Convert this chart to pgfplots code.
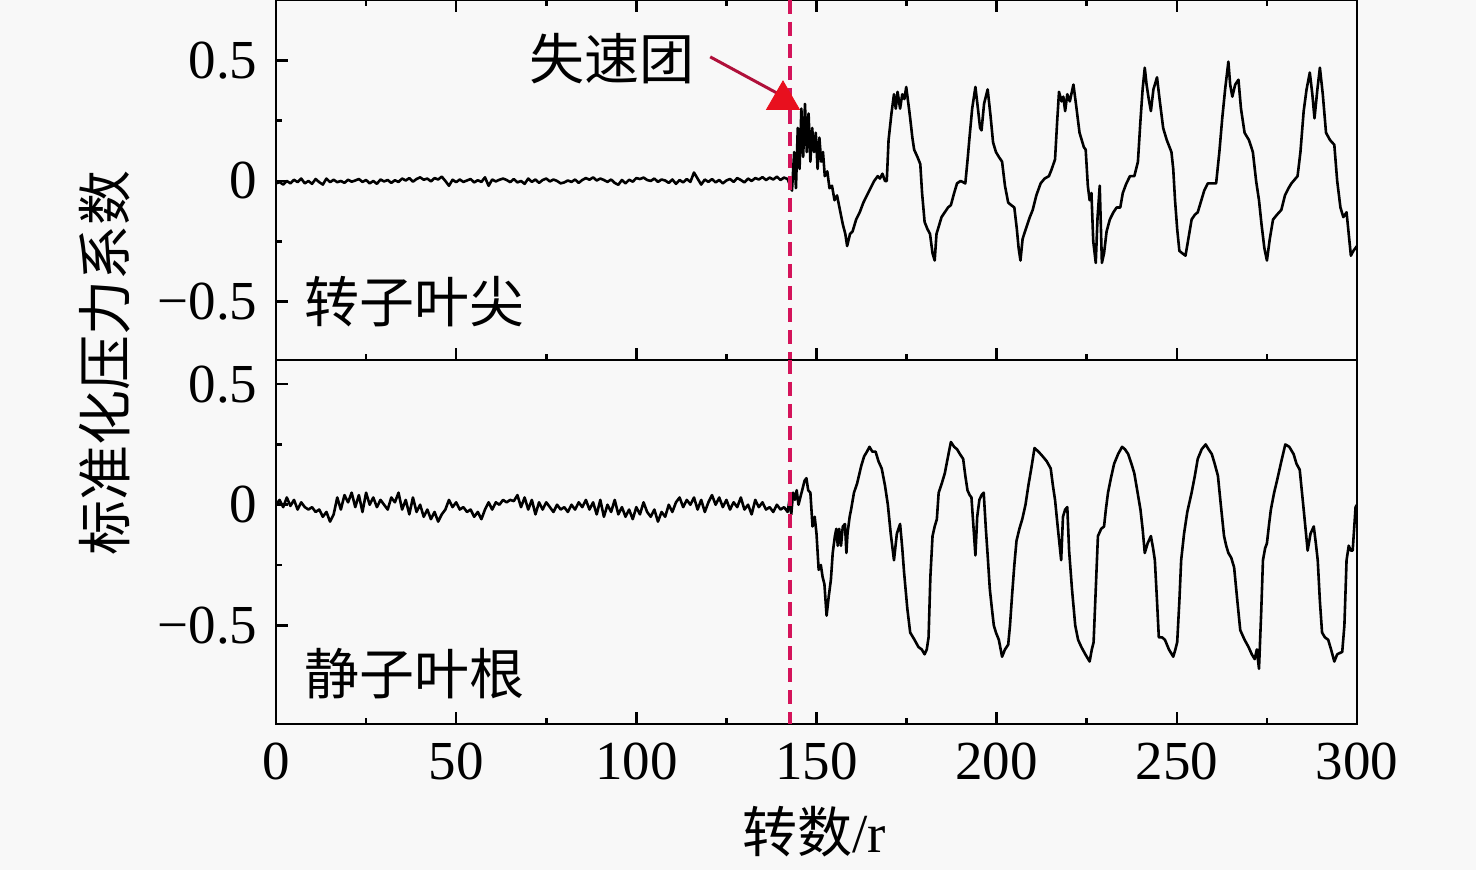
\documentclass[border=0pt]{standalone}
\usepackage{fontspec}
\usepackage{pgfplots}
\pgfplotsset{compat=1.18}
\setmainfont{Liberation Serif}
\newfontfamily\cjk{Noto Sans CJK SC}
\definecolor{bgc}{HTML}{F8F8F8}
\definecolor{dashc}{HTML}{D4145A}
\definecolor{trired}{HTML}{E8101E}
\definecolor{arrc}{HTML}{B0103A}
\pgfplotsset{
  panel/.style={
    scale only axis, width=540.5pt,
    xmin=0, xmax=300,
    axis line style={line width=1.4pt},
    tick align=inside,
    major tick length=6pt, minor tick length=3pt,
    every tick/.style={black, line width=1.3pt},
    xtick={0,50,100,150,200,250,300},
    minor xtick={25,75,125,175,225,275},
    ytick={-0.5,0,0.5}, minor ytick={-0.25,0.25},
    yticklabels={−0.5,0,0.5},
    ytick pos=left,
    /pgf/number format/assume math mode=true,
    tick label style={font=\fontsize{27.5}{33}\selectfont},
    clip=true,
  },
  sig/.style={black, line width=1.3pt, line join=round},
}
\begin{document}
\fontsize{27.5}{33}\selectfont
\begin{tikzpicture}
\path[use as bounding box, fill=bgc] (-138pt,0pt) rectangle (600pt,-435pt);
% ---------------- top panel ----------------
\begin{axis}[panel, at={(0pt,0pt)}, anchor=north west, height=180pt,
  ymin=-0.743, ymax=0.751, xtick pos=both, xticklabels={}]
\addplot[sig] coordinates {
(0,-0.01)(1,-0.005)(2,-0.015)(3,0)(4,-0.01)(5,0.005)(6,-0.005)(7,0.01)(8,-0.01)(9,0)
(10,-0.012)(11,0.008)(12,-0.005)(13,-0.015)(14,0.01)(15,-0.005)(16,0.005)(17,-0.005)(18,0)(19,-0.008)
(20,0.005)(21,-0.003)(22,0.002)(23,0.008)(24,-0.004)(25,0.004)(26,-0.01)(27,0)(28,-0.012)(29,0.006)
(30,-0.002)(31,0.004)(32,-0.008)(33,0.003)(34,-0.004)(35,0.01)(36,0.002)(37,0.012)(38,-0.003)(39,0.008)
(40,0.015)(41,0.005)(42,0.01)(43,-0.002)(44,0.012)(45,0.006)(46,0.018)(47,0)(48,-0.02)(49,0.005)
(50,-0.005)(51,0.006)(52,-0.004)(53,0.002)(54,0.008)(55,-0.006)(56,0.003)(57,-0.004)(58,0.015)(59,-0.02)
(60,0.006)(61,-0.002)(62,0.005)(63,0.01)(64,0.004)(65,-0.005)(66,0.008)(67,-0.006)(68,0)(69,-0.012)
(70,0.01)(71,-0.004)(72,0.006)(73,-0.008)(74,0.004)(75,0.01)(76,-0.002)(77,0.006)(78,0)(79,-0.01)
(80,-0.006)(81,0.002)(82,-0.004)(83,0.006)(84,-0.008)(85,0.004)(86,0.012)(87,0.005)(88,0.015)(89,0.002)
(90,0.01)(91,0.004)(92,-0.004)(93,0.006)(94,-0.008)(95,-0.016)(96,0.004)(97,-0.01)(98,0.005)(99,-0.003)
(100,0.012)(101,0.008)(102,0.014)(103,0.004)(104,0)(105,0.01)(106,-0.004)(107,0.006)(108,0.002)(109,-0.008)
(110,0.006)(111,-0.012)(112,0.004)(113,-0.006)(114,0.008)(115,-0.004)(116,0.035)(117,0.01)(118,-0.015)(119,0.006)
(120,-0.004)(121,0.008)(122,-0.006)(123,0.004)(124,-0.01)(125,0.002)(126,0.008)(127,-0.004)(128,0.012)(129,0.004)
(130,-0.006)(131,0.01)(132,0)(133,0.012)(134,0.006)(135,0.016)(136,0.004)(137,0.014)(138,0.006)(139,0.018)
(140,0.004)(141,0.014)(142,0.008)
(143.2,-0.04)(143.8,0.12)(144.3,-0.03)(144.8,0.22)(145.3,0.05)(145.8,0.30)(146.3,0.10)(146.8,0.32)(147.3,0.12)(147.8,0.28)
(148.3,0.08)(148.8,0.22)(149.3,0.12)(149.8,0.20)(150.3,0.05)(150.8,0.18)(151.3,0.08)(151.8,0.12)(152.3,0.02)(153,0.04)
(153.6,-0.03)(154.3,-0.02)(155,-0.08)(155.7,-0.06)(156.5,-0.12)(157.3,-0.18)(158,-0.22)(158.5,-0.27)(159.3,-0.22)(160,-0.21)
(161,-0.16)(162,-0.13)(163,-0.09)(164,-0.06)(165,-0.03)(166,0)(167,0.02)(167.6,0.01)(168.3,0.03)(169,0)(169.5,0)
(170,0.17)(170.8,0.28)(171.5,0.36)(172,0.30)(172.5,0.37)(173.2,0.30)(173.8,0.36)(174.4,0.34)(174.9,0.39)(175.5,0.32)
(176,0.26)(176.6,0.18)(177.1,0.13)(178,0.10)(178.8,0.07)(179.3,-0.05)(180,-0.17)(180.8,-0.2)(181.5,-0.22)(182.2,-0.30)
(182.8,-0.33)(183.3,-0.22)(183.9,-0.19)(184.7,-0.15)(185.6,-0.13)(186.5,-0.11)(187.3,-0.10)(188.2,-0.05)(189,-0.01)(190,0)
(191.3,-0.01)(192,0.10)(192.4,0.17)(193.2,0.30)(194.1,0.39)(194.8,0.30)(195.4,0.22)(195.8,0.21)(196.5,0.32)(197.5,0.38)
(198.3,0.27)(199,0.16)(199.8,0.12)(200.6,0.10)(201.5,0.08)(202.3,-0.02)(203.2,-0.09)(204,-0.10)(204.9,-0.11)(205.6,-0.2)
(206.1,-0.28)(206.6,-0.33)(207.2,-0.24)(208.3,-0.19)(209.2,-0.15)(210,-0.12)(211,-0.06)(212.2,-0.01)(213.3,0.01)(214.5,0.02)
(215.3,0.05)(216.2,0.09)(216.8,0.25)(217.3,0.37)(218,0.33)(218.5,0.35)(219,0.29)(219.6,0.36)(220.3,0.33)(221.3,0.40)
(222,0.32)(223,0.20)(223.6,0.17)(224.2,0.14)(224.7,0.13)(225.3,-0.02)(225.8,-0.08)(226.3,-0.05)(226.8,-0.25)(227.5,-0.34)
(228,-0.15)(228.6,-0.02)(229.2,-0.34)(229.8,-0.3)(230.5,-0.21)(231.4,-0.16)(232.4,-0.13)(233.3,-0.11)(234.3,-0.11)(235,-0.05)
(236,-0.01)(237,0.02)(238.2,0.02)(239.2,0.08)(239.9,0.25)(240.5,0.38)(241.1,0.47)(241.6,0.40)(242.2,0.34)(242.8,0.29)
(243.5,0.38)(244.5,0.43)(245.2,0.34)(246.2,0.22)(247.2,0.17)(248.5,0.12)(249,0.05)(249.5,-0.08)(250.1,-0.2)(250.7,-0.29)
(251.5,-0.30)(252.4,-0.31)(253.2,-0.24)(254.1,-0.16)(255,-0.14)(255.8,-0.13)(256.8,-0.08)(257.6,-0.04)(258.6,-0.01)(259.7,-0.01)
(260.9,-0.01)(261.8,0.12)(262.6,0.26)(263.4,0.38)(264.3,0.495)(264.8,0.40)(265.4,0.35)(266.2,0.40)(267.1,0.42)(267.8,0.30)
(268.8,0.20)(270,0.17)(271.1,0.12)(272,0)(272.8,-0.08)(273.5,-0.18)(274.3,-0.28)(275,-0.33)(275.8,-0.24)(276.7,-0.16)
(277.8,-0.14)(279,-0.12)(280,-0.06)(281,-0.03)(281.8,-0.01)(283.5,0.02)(284.3,0.12)(285.2,0.29)(286,0.38)(286.9,0.45)
(287.6,0.36)(288.2,0.26)(289,0.38)(289.7,0.47)(290.5,0.36)(291.4,0.20)(292.5,0.17)(293.7,0.15)(294.5,0)(295.4,-0.11)
(296.2,-0.15)(297.1,-0.13)(297.7,-0.22)(298.3,-0.31)(299,-0.29)(300,-0.27)
};
\addplot[dashc, line width=1.8pt, dash pattern=on 7pt off 4pt] coordinates {(142.7,0.751)(142.7,-0.743)};
\addplot[arrc, line width=1.5pt] coordinates {(120.5,0.515)(139,0.365)};
\addplot[only marks, mark=triangle*, mark size=9.5pt, mark options={fill=trired, draw=trired}] coordinates {(140.7,0.336)};
\node at (axis cs:93.3,0.506) {\cjk 失速团};
\node at (axis cs:38.3,-0.502) {\cjk 转子叶尖};
\end{axis}
% ---------------- bottom panel ----------------
\begin{axis}[panel, at={(0pt,-180pt)}, anchor=north west, height=182pt,
  ymin=-0.909, ymax=0.60, xtick pos=bottom,
  xticklabels={0,50,100,150,200,250,300}]
\addplot[sig] coordinates {
(0,0)(1,0.02)(2,-0.01)(3,0.03)(4,-0.005)(5,0.02)(6,-0.02)(7,0.01)(8,-0.01)(9,-0.02)
(10,-0.01)(11,-0.03)(12,-0.02)(13,-0.05)(14,-0.03)(15,-0.07)(16,-0.04)(17,0.03)(18,-0.02)(19,0.04)
(20,0.01)(21,0.05)(22,-0.01)(23,0.04)(24,-0.03)(25,0.05)(26,0)(27,0.03)(28,-0.01)(29,0.02)
(30,0)(31,-0.02)(32,0.03)(33,0.01)(34,0.05)(35,-0.02)(36,0.02)(37,-0.04)(38,0.03)(39,-0.03)
(40,0)(41,-0.05)(42,-0.02)(43,-0.06)(44,-0.03)(45,-0.07)(46,-0.04)(47,-0.02)(48,0.02)(49,-0.01)
(50,0.01)(51,-0.02)(52,-0.01)(53,-0.03)(54,-0.02)(55,-0.05)(56,-0.03)(57,-0.06)(58,-0.02)(59,0.01)
(60,-0.02)(61,0.01)(62,0)(63,0.02)(64,0.01)(65,0.02)(66,0.015)(67,0.04)(68,-0.01)(69,0.03)
(70,-0.02)(71,0.02)(72,-0.04)(73,0.01)(74,-0.02)(75,0.01)(76,-0.01)(77,-0.03)(78,0)(79,-0.02)
(80,-0.01)(81,-0.03)(82,0)(83,-0.02)(84,0.01)(85,-0.01)(86,0.02)(87,-0.02)(88,0.01)(89,-0.04)
(90,0.02)(91,-0.05)(92,0)(93,-0.03)(94,0.02)(95,-0.04)(96,-0.01)(97,-0.05)(98,-0.02)(99,-0.06)
(100,-0.01)(101,-0.04)(102,0.01)(103,-0.03)(104,-0.05)(105,-0.02)(106,-0.07)(107,-0.03)(108,-0.05)(109,0)
(110,-0.03)(111,0.01)(112,0.03)(113,-0.01)(114,0.02)(115,0)(116,0.03)(117,-0.02)(118,0.02)(119,-0.03)
(120,0.01)(121,0.04)(122,0)(123,0.03)(124,-0.01)(125,0.02)(126,-0.02)(127,0.01)(128,-0.01)(129,0.03)
(130,-0.02)(131,0)(132,-0.04)(133,0.02)(134,-0.01)(135,0.01)(136,-0.02)(137,-0.01)(138,-0.03)(139,0)
(140,-0.02)(141,-0.01)(142,-0.03)
(142.5,0.02)(143,-0.04)(143.5,0.05)(144,0.02)(144.5,0.06)(145,0)(145.5,0.03)(146.2,0.07)(146.7,0.1)(147.2,0.11)
(147.7,0.06)(148.3,0.05)(148.9,-0.09)(149.5,-0.05)(150,-0.12)(150.6,-0.27)(151.2,-0.25)(151.7,-0.30)(152.2,-0.33)(152.8,-0.46)
(153.4,-0.38)(154,-0.31)(154.5,-0.2)(155.1,-0.13)(155.5,-0.1)(155.9,-0.17)(156.3,-0.1)(156.8,-0.17)(157.3,-0.09)(157.9,-0.08)
(158.3,-0.2)(158.6,-0.12)(159.2,-0.05)(159.6,-0.02)(160.4,0.05)(161.3,0.09)(162.4,0.16)(163.2,0.2)(164,0.22)(164.7,0.24)
(165.5,0.22)(166.4,0.22)(167.2,0.18)(168.1,0.15)(169,0.08)(169.8,0)(170.6,-0.12)(171.5,-0.23)(172.3,-0.12)(173.2,-0.08)
(173.8,-0.18)(174.3,-0.28)(175.2,-0.43)(176,-0.53)(177.2,-0.56)(178.3,-0.59)(179.2,-0.60)(180,-0.62)(180.6,-0.60)(181.1,-0.55)
(181.6,-0.3)(182.2,-0.13)(182.8,-0.09)(183.4,-0.06)(183.9,0.05)(184.8,0.09)(185.6,0.13)(186.5,0.2)(187.3,0.26)(188.2,0.24)
(189,0.23)(189.8,0.21)(190.7,0.19)(191.3,0.12)(191.9,0.06)(192.5,0.04)(193,0.03)(193.6,-0.1)(194.1,-0.21)(194.6,-0.05)
(195.2,0.02)(195.8,0.04)(196.4,0.05)(197,-0.1)(197.5,-0.21)(198.1,-0.35)(198.6,-0.42)(199.2,-0.5)(199.8,-0.53)(200.6,-0.56)
(201.5,-0.63)(202.3,-0.60)(203.2,-0.58)(203.7,-0.5)(204.3,-0.37)(204.9,-0.25)(205.5,-0.15)(206.3,-0.10)(207.1,-0.06)(208,0)
(208.8,0.08)(209.6,0.15)(210.5,0.235)(211.6,0.22)(212.8,0.2)(213.9,0.18)(215,0.15)(215.6,0.08)(216.2,0.02)(217,-0.1)
(217.9,-0.23)(218.4,-0.05)(219,-0.02)(219.6,-0.01)(220.1,-0.19)(220.9,-0.35)(221.8,-0.5)(222.6,-0.56)(223.5,-0.59)(224.6,-0.62)
(225.8,-0.65)(226.4,-0.6)(226.9,-0.57)(227.5,-0.35)(228.1,-0.13)(229,-0.1)(229.8,-0.09)(230.3,-0.02)(230.9,0.05)(231.7,0.11)
(232.6,0.17)(233.7,0.21)(234.8,0.24)(235.6,0.23)(236.5,0.21)(237.4,0.17)(238.2,0.13)(239,0.06)(239.9,-0.02)(240.5,-0.1)
(241.1,-0.2)(241.9,-0.16)(242.8,-0.13)(243.4,-0.18)(243.9,-0.23)(244.5,-0.4)(245,-0.55)(245.9,-0.55)(246.7,-0.56)(247.8,-0.6)
(249,-0.63)(249.6,-0.6)(250.1,-0.57)(250.7,-0.4)(251.2,-0.23)(252,-0.12)(252.9,-0.03)(254.1,0.05)(255,0.12)(255.8,0.19)
(256.9,0.23)(258,0.25)(258.8,0.23)(259.7,0.21)(260.5,0.17)(261.4,0.12)(262.2,0)(263.1,-0.13)(263.7,-0.17)(264.3,-0.2)
(265.1,-0.22)(265.9,-0.26)(266.8,-0.4)(267.6,-0.52)(268.8,-0.56)(269.9,-0.59)(270.8,-0.62)(271.6,-0.64)(272.2,-0.6)(272.8,-0.68)
(273.4,-0.45)(273.9,-0.23)(274.5,-0.18)(275,-0.16)(275.6,-0.08)(276.1,-0.02)(277,0.05)(277.8,0.10)(279,0.18)(280.1,0.25)
(281.2,0.24)(282.4,0.21)(283.2,0.17)(284.1,0.145)(285.2,-0.02)(286.3,-0.19)(287.1,-0.12)(288,-0.09)(288.5,-0.15)(289.1,-0.23)
(289.7,-0.4)(290.3,-0.53)(291.1,-0.55)(292,-0.56)(292.8,-0.6)(293.7,-0.65)(294.5,-0.62)(295.9,-0.61)(296.5,-0.5)(297.1,-0.23)
(297.7,-0.17)(298.3,-0.19)(298.8,-0.19)(299.6,-0.01)(300,0)
};
\addplot[dashc, line width=1.8pt, dash pattern=on 7pt off 4pt] coordinates {(142.7,0.60)(142.7,-0.909)};
\node at (axis cs:38.3,-0.701) {\cjk 静子叶根};
\end{axis}
\node[rotate=90] at (-85.5pt,-181.75pt) {\cjk 标准化压力系数};
\node at (269pt,-416pt) {{\cjk 转数}/r};
\end{tikzpicture}
\end{document}
